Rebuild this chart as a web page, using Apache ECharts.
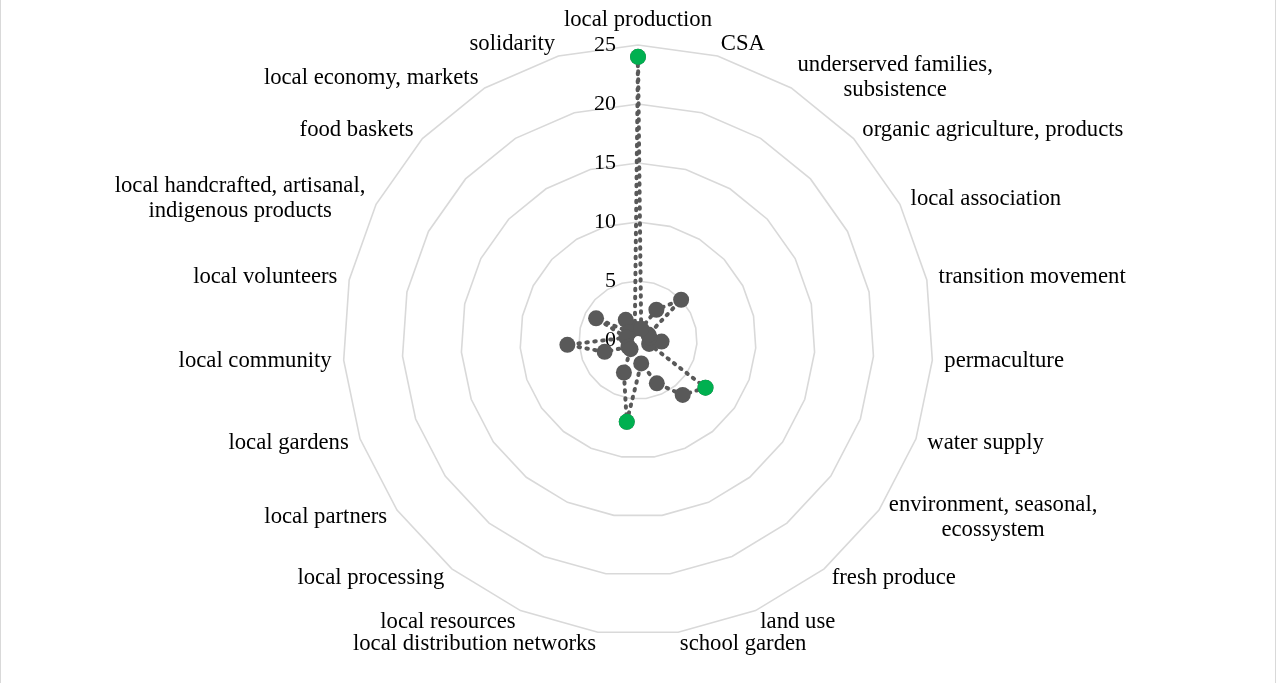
<!DOCTYPE html>
<html>
<head>
<meta charset="utf-8">
<script src="https://cdn.jsdelivr.net/npm/echarts@6/dist/echarts.min.js"></script>
<style>
html,body{margin:0;padding:0;background:#fff;}
#c{width:1276px;height:683px;box-sizing:border-box;border-left:1px solid #d9d9d9;border-right:1px solid #d9d9d9;}
</style>
</head>
<body>
<div id="c"></div>
<script>
// Categories in clockwise order starting at the top
const categories = [
  'local production',
  'CSA',
  'underserved families,\nsubsistence',
  'organic agriculture, products',
  'local association',
  'transition movement',
  'permaculture',
  'water supply',
  'environment, seasonal,\necossystem',
  'fresh produce',
  'land use',
  'school garden',
  'local distribution networks',
  'local resources',
  'local processing',
  'local partners',
  'local gardens',
  'local community',
  'local volunteers',
  'local handcrafted, artisanal,\nindigenous products',
  'food baskets',
  'local economy, markets',
  'solidarity'
];
const values = [24, 1, 3, 5, 1, 1, 2, 1, 7, 6, 4, 2, 7, 3, 1, 1, 3, 6, 1, 4, 1, 2, 1];
const highlighted = ['local production', 'environment, seasonal,\necossystem', 'local distribution networks'];
const axisMax = 25;
const axisInterval = 5;

const serif = '"Times New Roman","Liberation Serif",serif';
const n = categories.length;
// ECharts radar runs counter-clockwise: keep first, reverse the rest
const order = [0].concat(categories.map((_, i) => i).slice(1).reverse());
const indicator = order.map(i => ({ name: categories[i], min: 0, max: axisMax }));
const radarValues = order.map(i => values[i]);
const greenData = highlighted.map(name => {
  const k = categories.indexOf(name);
  return [values[k], k];
});

const chart = echarts.init(document.getElementById('c'), null, { renderer: 'canvas' });
chart.setOption({
  animation: false,
  backgroundColor: '#fff',
  radar: {
    center: [637, 340],
    radius: 295,
    startAngle: 90,
    splitNumber: axisMax / axisInterval,
    shape: 'polygon',
    indicator: indicator,
    nameGap: 12,
    axisName: {
      color: '#000',
      fontFamily: serif,
      fontSize: 22.7,
      formatter: function (name) {
        return name.split('\n').map(l => '{a|' + l + '}').join('\n');
      },
      rich: {
        a: { align: 'center', color: '#000', fontFamily: serif, fontSize: 22.7, lineHeight: 25 }
      }
    },
    splitLine: { lineStyle: { color: '#d9d9d9', width: 1.6 } },
    splitArea: { show: false },
    axisLine: { show: false },
    axisTick: { show: false },
    axisLabel: { show: false }
  },
  polar: {
    center: [637, 340],
    radius: 295
  },
  angleAxis: {
    type: 'value',
    min: 0,
    max: n,
    startAngle: 90,
    clockwise: true,
    axisLine: { show: false },
    axisTick: { show: false },
    axisLabel: { show: false },
    splitLine: { show: false }
  },
  radiusAxis: {
    type: 'value',
    min: 0,
    max: axisMax,
    interval: axisInterval,
    axisLine: { show: false },
    axisTick: { show: false },
    splitLine: { show: false },
    axisLabel: { show: true, margin: 22, color: '#000', fontFamily: serif, fontSize: 22 }
  },
  series: [
    {
      type: 'radar',
      symbol: 'circle',
      symbolSize: 16,
      itemStyle: { color: '#595959', opacity: 1 },
      lineStyle: { color: '#595959', width: 4, type: [1.5, 6.5], cap: 'round', opacity: 1 },
      data: [{ value: radarValues }],
      z: 2
    },
    {
      type: 'scatter',
      coordinateSystem: 'polar',
      symbol: 'circle',
      symbolSize: 16,
      itemStyle: { color: '#00b050', opacity: 1 },
      data: greenData,
      z: 5
    }
  ]
});
</script>
</body>
</html>
